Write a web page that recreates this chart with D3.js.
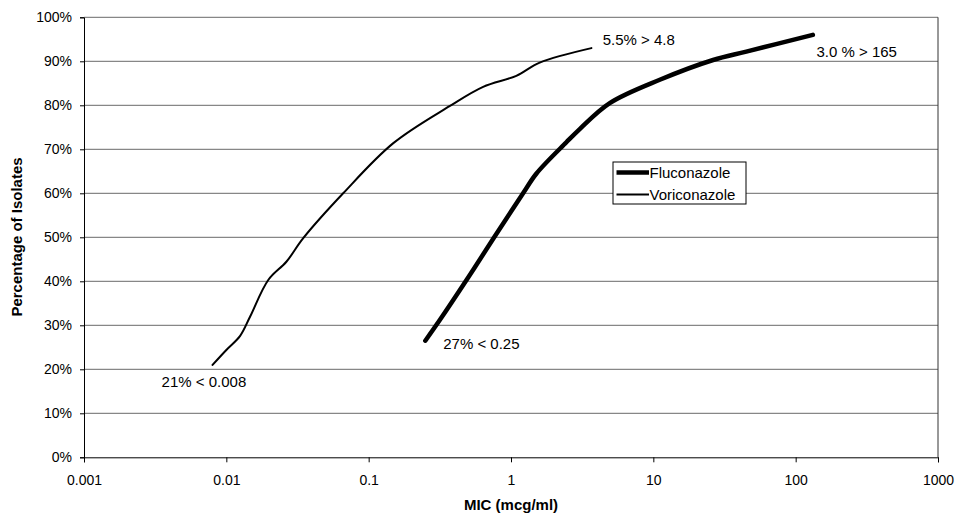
<!DOCTYPE html>
<html><head><meta charset="utf-8">
<script src="https://cdn.jsdelivr.net/npm/d3@7"></script>
<style>body{margin:0;background:#fff}svg{display:block}text{font-family:Arial,"Liberation Sans",sans-serif;fill:#000}</style>
</head><body><svg id="c" width="956" height="516"></svg>
<script>
const xTicks = [0.001, 0.01, 0.1, 1, 10, 100, 1000];
const xTickLabels = ["0.001", "0.01", "0.1", "1", "10", "100", "1000"];
const yTicks = [0, 10, 20, 30, 40, 50, 60, 70, 80, 90, 100];
const voriMIC = [0.008, 0.0100, 0.0125, 0.0147, 0.0197, 0.0265, 0.0347, 0.0662, 0.149, 0.37, 0.637, 1.09, 1.59, 3.67];
const voriPct = [21, 24.4, 27.6, 32.0, 40.3, 44.5, 49.8, 60.0, 71.4, 79.8, 84.2, 86.7, 89.7, 93.0];
const flucMIC = [0.25, 0.316, 0.487, 0.748, 1.216, 1.51, 2.45, 3.04, 4.94, 11.1, 26.3, 45, 132];
const flucPct = [26.5, 31.2, 40.3, 49.6, 60.0, 64.5, 71.6, 74.6, 80.5, 85.8, 90.3, 92.2, 96.0];
const seriesNames = ["Fluconazole", "Voriconazole"];
const annotations = [
  {text: "21% < 0.008", x: 0.00351, y: 16.0},
  {text: "27% < 0.25", x: 0.334, y: 24.6},
  {text: "5.5% > 4.8", x: 4.41, y: 93.6},
  {text: "3.0 % > 165", x: 140, y: 91.0}
];

const svg = d3.select("#c");
const L = 84, R = 938, T = 17.3, B = 457.3;
const x = d3.scaleLog().domain([0.001, 1000]).range([L, R]);
const y = d3.scaleLinear().domain([0, 100]).range([B, T]);
const FONT = "Arial, 'Liberation Sans', sans-serif";

svg.append("g").selectAll("line").data(yTicks.filter(d => d > 0)).join("line")
  .attr("x1", L).attr("x2", R).attr("y1", d => y(d)).attr("y2", d => y(d))
  .attr("stroke", "#6a6a6a").attr("stroke-width", 1);
svg.append("line").attr("x1", R).attr("x2", R).attr("y1", T).attr("y2", B).attr("stroke", "#333");

const ya = svg.append("g").attr("transform", `translate(${L},0)`)
  .call(d3.axisLeft(y).tickValues(yTicks).tickFormat(d => d + "%").tickSize(4).tickPadding(8));
ya.select(".domain").attr("stroke", "#000");
ya.selectAll("text").style("font-size", "14px").style("font-family", FONT);
const xa = svg.append("g").attr("transform", `translate(0,${B})`)
  .call(d3.axisBottom(x).tickValues(xTicks).tickFormat((d, i) => xTickLabels[i]).tickSize(5).tickPadding(13));
xa.select(".domain").attr("stroke", "#000");
xa.selectAll("text").style("font-size", "14px").style("font-family", FONT);

const line = d3.line().x(d => x(d[0])).y(d => y(d[1])).curve(d3.curveCatmullRom.alpha(0.5));
svg.append("path").datum(voriMIC.map((m, i) => [m, voriPct[i]]))
  .attr("d", line).attr("fill", "none").attr("stroke", "#000").attr("stroke-width", 2).attr("stroke-linecap", "round");
svg.append("path").datum(flucMIC.map((m, i) => [m, flucPct[i]]))
  .attr("d", line).attr("fill", "none").attr("stroke", "#000").attr("stroke-width", 4.5).attr("stroke-linecap", "round");

svg.append("g").selectAll("text").data(annotations).join("text")
  .attr("x", d => x(d.x)).attr("y", d => y(d.y)).style("font-size", "15px").text(d => d.text);

const lg = svg.append("g").attr("transform", "translate(613,162)");
lg.append("rect").attr("width", 133).attr("height", 42).attr("fill", "#fff").attr("stroke", "#000").attr("stroke-width", 1);
[4.5, 2].forEach((w, i) => {
  const yy = 10.5 + i * 22;
  lg.append("line").attr("x1", 3.5).attr("x2", 36).attr("y1", yy).attr("y2", yy).attr("stroke", "#000").attr("stroke-width", w);
  lg.append("text").attr("x", 36.5).attr("y", yy + 5.5).style("font-size", "15px").text(seriesNames[i]);
});

svg.append("text").attr("x", 511).attr("y", 510).attr("text-anchor", "middle")
  .style("font-size", "15px").style("font-weight", "bold").text("MIC (mcg/ml)");
svg.append("text").attr("transform", "translate(22,237) rotate(-90)").attr("text-anchor", "middle")
  .style("font-size", "15px").style("font-weight", "bold").text("Percentage of Isolates");
</script></body></html>
